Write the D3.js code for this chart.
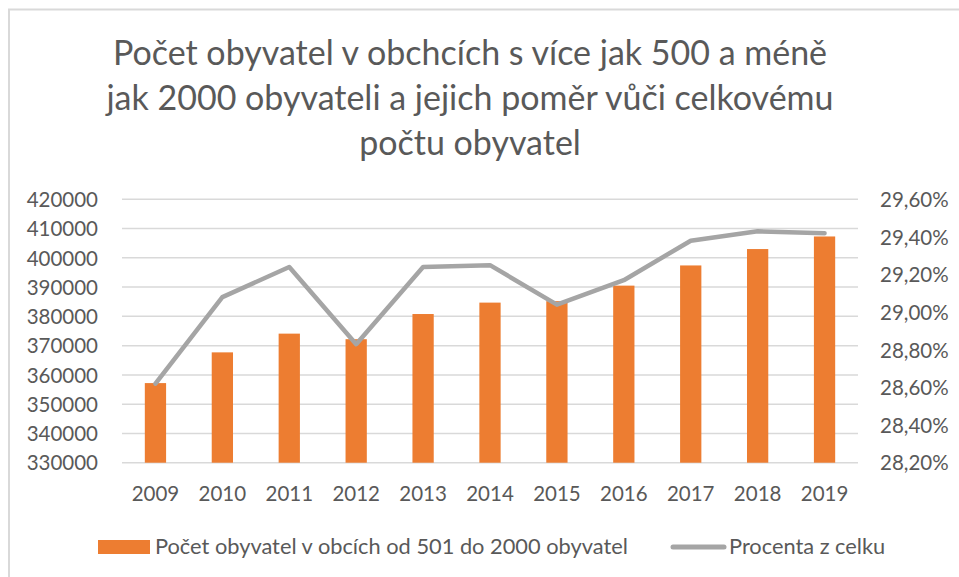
<!DOCTYPE html>
<html>
<head>
<meta charset="utf-8">
<script src="https://cdn.jsdelivr.net/npm/d3@7"></script>
<style>
  body { margin: 0; background: #fff; }
  text { font-family: Lato, "Open Sans", sans-serif; fill: #595959; }
</style>
</head>
<body>
<script>
// years on the x axis
var years = ["2009", "2010", "2011", "2012", "2013", "2014", "2015", "2016", "2017", "2018", "2019"];

// people living in municipalities with 501 - 2000 inhabitants
var people = [357200, 367700, 374100, 372200, 380800, 384700, 385200, 390500, 397400, 403000, 407300];

// share of total population (percent)
var share = [28.62, 29.08, 29.24, 28.83, 29.24, 29.25, 29.04, 29.17, 29.38, 29.43, 29.42];

// tick values for both axes
var leftTicks = [330000, 340000, 350000, 360000, 370000, 380000, 390000, 400000, 410000, 420000];
var rightTicks = [28.2, 28.4, 28.6, 28.8, 29.0, 29.2, 29.4, 29.6];

var titleLines = ["Počet obyvatel v obchcích s více jak 500 a méně",
                  "jak 2000 obyvateli a jejich poměr vůči celkovému",
                  "počtu obyvatel"];
var barName = "Počet obyvatel v obcích od 501 do 2000 obyvatel";
var lineName = "Procenta z celku";

var w = 959, h = 577;
// plot area (note: "top" is taken by window.top)
var plotLeft = 122, plotRight = 858, plotTop = 199.3, plotBottom = 462.7;

var svg = d3.select("body").append("svg")
  .attr("width", w)
  .attr("height", h);

// chart area border (only top and left visible in the crop)
svg.append("rect")
  .attr("x", 9).attr("y", 9.5)
  .attr("width", 1000).attr("height", 1000)
  .attr("fill", "none")
  .attr("stroke", "#d9d9d9")
  .attr("stroke-width", 2);

var x = d3.scaleBand().domain(years).range([plotLeft, plotRight]);
var yLeft = d3.scaleLinear().domain([330000, 420000]).range([plotBottom, plotTop]);
var yRight = d3.scaleLinear().domain([28.2, 29.6]).range([plotBottom, plotTop]);

// title, three centred lines
var title = svg.append("g");
title.selectAll("text")
  .data(titleLines)
  .enter().append("text")
  .attr("x", 470)
  .attr("y", (d, i) => 65 + i * 45)
  .attr("text-anchor", "middle")
  .style("font-size", "34px")
  .text(d => d);

// gridlines
svg.append("g")
  .selectAll("line")
  .data(leftTicks)
  .enter().append("line")
  .attr("x1", plotLeft).attr("x2", plotRight)
  .attr("y1", d => yLeft(d)).attr("y2", d => yLeft(d))
  .attr("stroke", "#d9d9d9")
  .attr("stroke-width", 1.5);

// left axis
var axL = svg.append("g")
  .attr("transform", "translate(" + (plotLeft - 24) + ",0)")
  .call(d3.axisLeft(yLeft).tickValues(leftTicks).tickSize(0).tickPadding(0).tickFormat(d3.format("d")));
axL.select(".domain").remove();

// right axis
var axR = svg.append("g")
  .attr("transform", "translate(880,0)")
  .call(d3.axisRight(yRight).tickValues(rightTicks).tickSize(0).tickPadding(0)
    .tickFormat(d => d3.format(".2f")(d).replace(".", ",") + "%"));
axR.select(".domain").remove();

// bottom axis
var axB = svg.append("g")
  .attr("transform", "translate(0," + (plotBottom + 24) + ")")
  .call(d3.axisBottom(x).tickSize(0).tickPadding(0));
axB.select(".domain").remove();

svg.selectAll(".tick text")
  .attr("fill", "#595959")
  .style("font-family", "Lato, sans-serif")
  .style("font-size", "20.5px");
axL.selectAll(".tick text").attr("dy", "0.35em");
axR.selectAll(".tick text").attr("dy", "0.35em");
axB.selectAll(".tick text").attr("dy", "0.71em");

// bars
var bw = x.bandwidth() * 0.318;
svg.append("g")
  .selectAll("rect")
  .data(people)
  .enter().append("rect")
  .attr("x", (d, i) => x(years[i]) + (x.bandwidth() - bw) / 2)
  .attr("y", d => yLeft(d))
  .attr("width", bw)
  .attr("height", d => plotBottom - yLeft(d))
  .attr("fill", "#ed7d31");

// percentage line
var line = d3.line()
  .x((d, i) => x(years[i]) + x.bandwidth() / 2)
  .y(d => yRight(d));

svg.append("path")
  .datum(share)
  .attr("d", line)
  .attr("fill", "none")
  .attr("stroke", "#a5a5a5")
  .attr("stroke-width", 4.5)
  .attr("stroke-linejoin", "round")
  .attr("stroke-linecap", "round");

// legend
var lg = svg.append("g");
lg.append("rect")
  .attr("x", 98).attr("y", 540)
  .attr("width", 52).attr("height", 14)
  .attr("fill", "#ed7d31");
lg.append("text")
  .attr("x", 155).attr("y", 554)
  .style("font-size", "21.8px")
  .text(barName);
lg.append("line")
  .attr("x1", 673).attr("x2", 724)
  .attr("y1", 547).attr("y2", 547)
  .attr("stroke", "#a5a5a5")
  .attr("stroke-width", 5)
  .attr("stroke-linecap", "round");
lg.append("text")
  .attr("x", 729).attr("y", 554)
  .style("font-size", "21.8px")
  .text(lineName);
</script>
</body>
</html>
